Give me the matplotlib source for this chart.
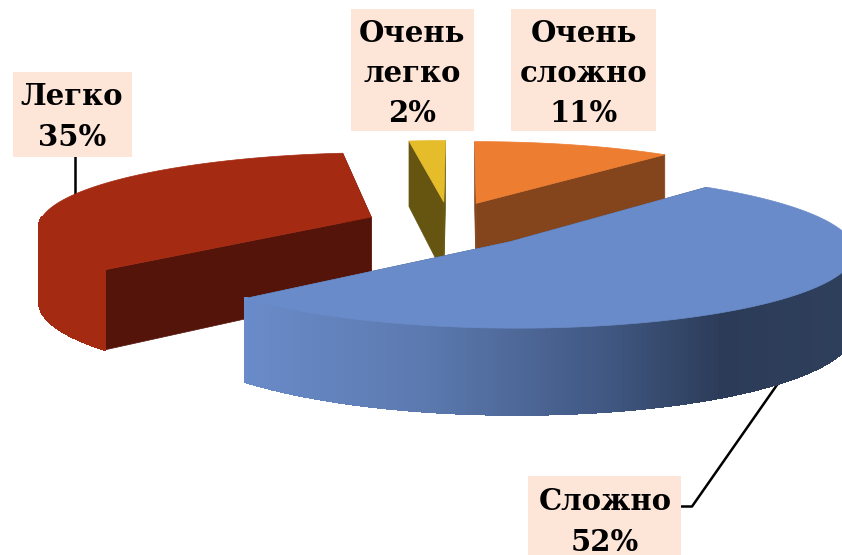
import numpy as np
import matplotlib
matplotlib.use("Agg")
import matplotlib.pyplot as plt
from matplotlib.colors import to_rgb
from matplotlib.patches import Polygon, Rectangle

# data, clockwise starting at the top
labels = ["Очень\nсложно", "Сложно", "Легко", "Очень\nлегко"]
values = [11, 52, 35, 2]

top_colors = ["#ed7d31", "#6a8bc9", "#a52a12", "#e5bc2a"]
face_colors = ["#85451c", "#3f5270", "#55140a", "#665510"]

# label boxes in pixels: left, top, right, bottom
boxes = [(511, 9, 656, 131), (528, 476, 681, 555), (13, 72, 132, 157), (351, 9, 474, 131)]
text_xy = [(584, 73.5), (605, 522), (72, 117), (412, 73.5)]

# projection
CX, CY = 448.5, 225.0
VX = CX + 12.0
R = 333.0
H = 664.0
Q = 0.11
DEPTH = 75.0
EXPLODE = 0.25
EXPLODE_Y = 1.3


def project(x, y, z=0.0):
    s = 1.0 / (1.0 + Q * y)
    px = VX + (CX - VX + R * x) * s
    py = CY - H * (1.0 - s) + DEPTH * z * s
    return px, py


def ring(a, ex, ey, z=0.0):
    return project(ex + np.sin(a), ey + np.cos(a), z)


def blue_shade(t):
    stops = [(0.0, "#6a8bc9"), (0.3, "#5c7ab0"), (0.62, "#3f5680"), (0.8, "#2c3c58"), (1.0, "#2e3f5c")]
    xs = [p[0] for p in stops]
    rgb = np.array([to_rgb(p[1]) for p in stops])
    return [np.interp(t, xs, rgb[:, i]) for i in range(3)]


fig = plt.figure(figsize=(8.42, 5.55), dpi=100)
ax = fig.add_axes([0, 0, 1, 1])
ax.set_xlim(0, 842)
ax.set_ylim(555, 0)
ax.axis("off")

# leader lines go behind the pie
ax.plot([75, 75], [157, 196], color="black", lw=1.8, zorder=1)
ax.plot([681, 692, 779], [506.5, 506.5, 382], color="black", lw=1.8, zorder=1)

fractions = np.array(values) / sum(values)
stops = np.concatenate([[0], np.cumsum(fractions)]) * 2 * np.pi

order = [3, 0, 2, 1]  # back to front
z = 2
for i in order:
    a0, a1 = stops[i], stops[i + 1]
    mid = (a0 + a1) / 2
    ex, ey = EXPLODE * np.sin(mid), EXPLODE * EXPLODE_Y * np.cos(mid)
    aa = np.linspace(a0, a1, 240)

    px0, py0 = ring(aa, ex, ey, 0)
    px1, py1 = ring(aa, ex, ey, 1)
    # on the back half the wall starts a bit under the rim so it never pokes out past the top
    pxr, pyr = ring(aa, ex, ey, np.where(np.cos(aa) > 0, 0.03, -0.01))

    # flat cut faces
    apex0 = project(ex, ey, 0)
    apex1 = project(ex, ey, 1)
    for a in (a0, a1):
        e0 = ring(a, ex, ey, 0)
        e1 = ring(a, ex, ey, 1)
        ax.add_patch(Polygon([apex0, e0, e1, apex1], closed=True, fc=face_colors[i],
                             ec=face_colors[i], lw=0.5, zorder=z))
    z += 1

    # outer wall, only the part turned to the viewer
    front = np.where(np.cos(aa) <= 0.35)[0]
    if len(front) > 1:
        for k in front[:-1]:
            col = blue_shade((px0[k] - 245) / (842 - 245)) if i == 1 else top_colors[i]
            # smooth lower edge under the quad
            edge = [(px1[k], py1[k]), (px1[k + 1], py1[k + 1])]
            ax.plot(*zip(*edge), color=col, lw=0.9, solid_capstyle="round", zorder=z)
            q = [(pxr[k], pyr[k]), (pxr[k + 1], pyr[k + 1]), (px1[k + 1], py1[k + 1]), (px1[k], py1[k])]
            ax.add_patch(Polygon(q, closed=True, fc=col, ec=col, lw=0.8, antialiased=False, zorder=z))
        z += 1

    # top
    pts = [apex0] + list(zip(px0, py0))
    ax.add_patch(Polygon(pts, closed=True, fc=top_colors[i], ec=top_colors[i], lw=0.5, zorder=z))
    z += 1

# labels
for i in range(len(values)):
    l, t, r, b = boxes[i]
    ax.add_patch(Rectangle((l, t), r - l, b - t, fc="#fde5d8", ec="none", zorder=50))
    ax.text(text_xy[i][0], text_xy[i][1], "%s\n%d%%" % (labels[i], values[i]),
            family="DejaVu Serif", weight="bold", fontsize=21, color="black",
            ha="center", va="center", linespacing=1.48, zorder=51)

fig.savefig("out.png", dpi=100)
